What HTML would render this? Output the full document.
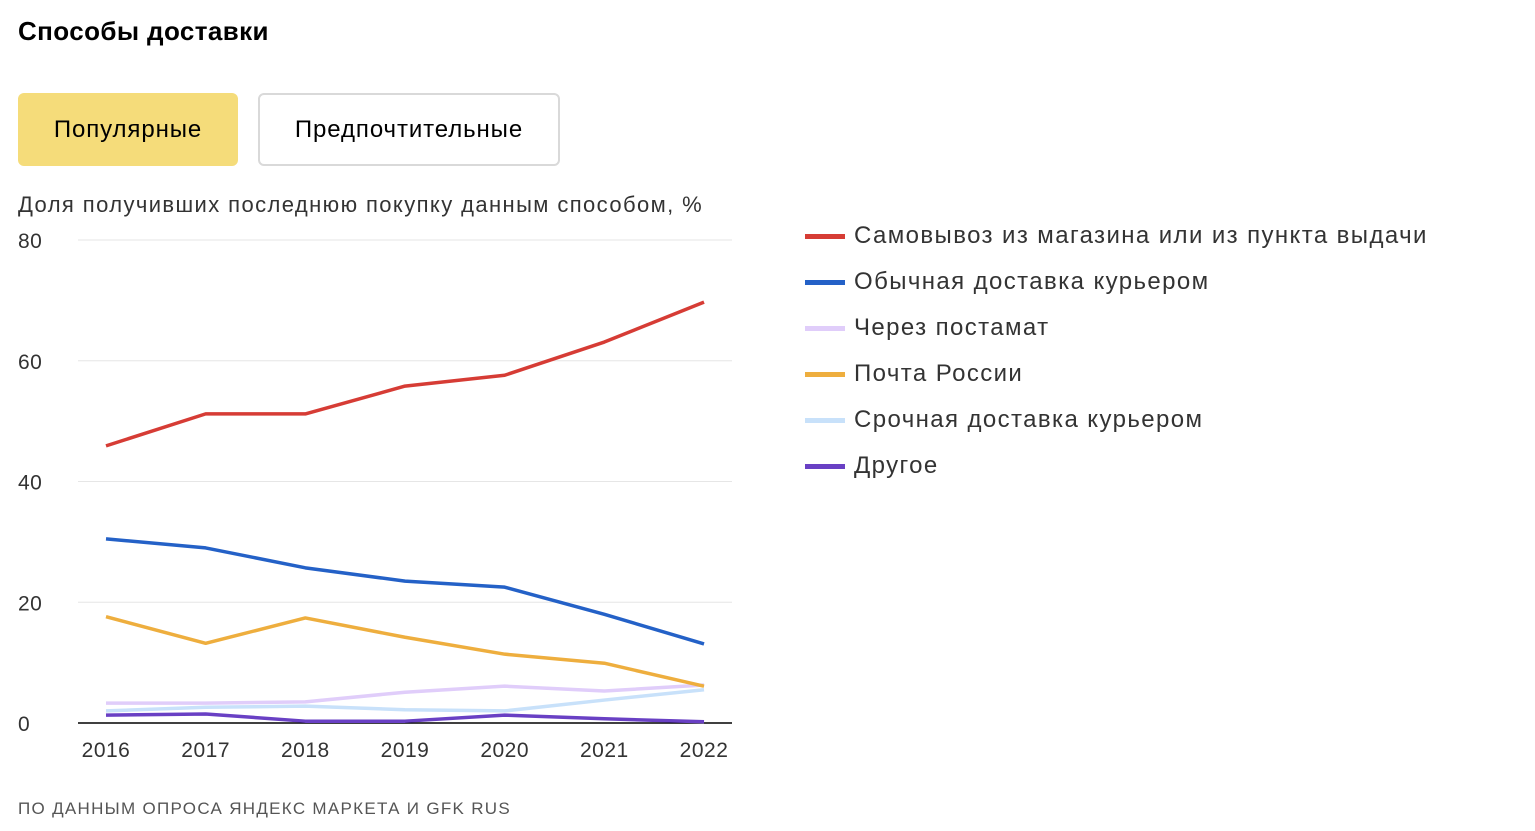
<!DOCTYPE html>
<html><head><meta charset="utf-8">
<style>
body{margin:0;width:1535px;height:831px;background:#fff;font-family:"Liberation Sans","DejaVu Sans",sans-serif;color:#000;position:relative;overflow:hidden}
.title{position:absolute;left:18px;top:16px;font-size:26px;font-weight:bold;letter-spacing:0.4px}
.btn{position:absolute;top:93px;height:73px;box-sizing:border-box;border-radius:6px;font-size:24px;display:flex;align-items:center;justify-content:center;letter-spacing:0.9px}
.b1{left:18px;width:220px;background:#f5dc7a}
.b2{left:258px;width:302px;border:2px solid #d9d9d9}
.sub{position:absolute;left:18px;top:192px;font-size:22px;color:#333;letter-spacing:1.4px}
.src{position:absolute;left:18px;top:799px;font-size:17px;color:#555;letter-spacing:1.3px}
.leg{position:absolute;left:805px;font-size:24px;color:#333;display:flex;align-items:center;letter-spacing:1.4px}
.leg i{display:inline-block;width:40px;height:5px;margin-right:9px}
</style></head><body>
<div class="title">Способы доставки</div>
<div class="btn b1">Популярные</div>
<div class="btn b2">Предпочтительные</div>
<div class="sub">Доля получивших последнюю покупку данным способом, %</div>
<svg id="chart" width="1535" height="831" style="position:absolute;left:0;top:0"></svg>
<div id="legend"></div>
<div class="src">ПО ДАННЫМ ОПРОСА ЯНДЕКС МАРКЕТА И GFK RUS</div>
<script>
const years=[2016,2017,2018,2019,2020,2021,2022];
const yTicks=[0,20,40,60,80];
const seriesNames=["Самовывоз из магазина или из пункта выдачи","Обычная доставка курьером","Через постамат","Почта России","Срочная доставка курьером","Другое"];
const seriesColors=["#d63c35","#2461c7","#e0cdfa","#eeae3e","#c8e1fa","#6940c4"];
const pickup=[45.9,51.2,51.2,55.8,57.6,63.1,69.7];
const courier=[30.5,29,25.7,23.5,22.5,18,13.1];
const postamat=[3.3,3.3,3.5,5.1,6.1,5.3,6.3];
const post=[17.6,13.2,17.4,14.2,11.4,9.9,6.1];
const express=[2,2.6,2.8,2.2,2,3.8,5.5];
const other=[1.3,1.5,0.3,0.3,1.3,0.7,0.2];
const allSeries=[pickup,courier,postamat,post,express,other];
const drawOrder=[4,2,5,3,1,0];
const svg=document.getElementById('chart');const NS='http://www.w3.org/2000/svg';
const x=i=>106+i*99.67, y=v=>723-v*6.0375;
function mk(t,a){const e=document.createElementNS(NS,t);for(const k in a)e.setAttribute(k,a[k]);svg.appendChild(e);return e;}
yTicks.forEach(t=>{
 const l=mk('line',{x1:78,x2:732,y1:y(t),y2:y(t),stroke:t===0?'#000':'#e6e6e6','stroke-width':t===0?1.5:1});
 
 
 const tx=mk('text',{x:18,y:y(t)+8,'font-size':21,fill:'#333','font-family':'Liberation Sans, sans-serif','letter-spacing':'0.5'});tx.textContent=t;
 
 
});
years.forEach((yr,i)=>{
 const tx=mk('text',{x:x(i),y:757,'font-size':21,fill:'#333','text-anchor':'middle','font-family':'Liberation Sans, sans-serif','letter-spacing':'0.5'});tx.textContent=yr;
 
 
});
drawOrder.forEach(s=>{
 const p=mk('polyline',{points:allSeries[s].map((v,i)=>x(i)+','+y(v)).join(' '),fill:'none',stroke:seriesColors[s],'stroke-width':3.5,'stroke-linejoin':'round'});
 
 
});
const lg=document.getElementById('legend');
seriesNames.forEach((n,i)=>{
 const d=document.createElement('div');d.className='leg';d.style.top=(222+i*46)+'px';
 d.innerHTML='<i style="background:'+seriesColors[i]+'"></i>'+n;
 
 
 lg.appendChild(d);
});
</script>
</body></html>
